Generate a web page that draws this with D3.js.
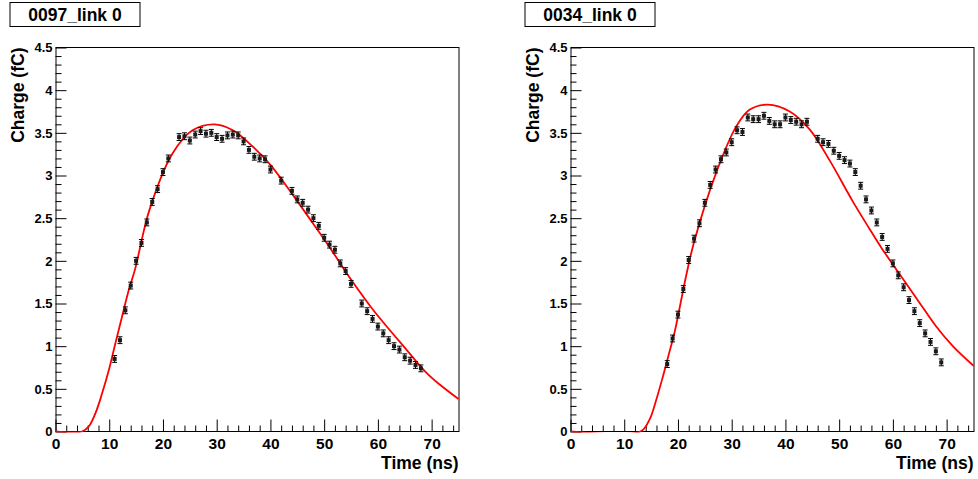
<!DOCTYPE html>
<html>
<head>
<meta charset="utf-8">
<script src="https://cdn.jsdelivr.net/npm/d3@7"></script>
<style>
body { margin: 0; background: #fff; }
svg { display: block; font-family: "Liberation Sans", Arial, Helvetica, sans-serif; font-weight: bold; }
</style>
</head>
<body>
<svg id="chart" width="978" height="479"></svg>
<script>
// left pad: 0097_link 0
var leftTitle = '0097_link 0';
var leftTime = [11, 12, 13, 14, 15, 16, 17, 18, 19, 20, 21, 23, 24, 25, 26, 27, 28, 29, 30, 31,
  32, 33, 34, 35, 36, 37, 38, 39, 40, 42, 44, 45, 46, 47, 48, 49, 50, 51, 52, 53,
  54, 55, 57, 58, 59, 60, 61, 62, 63, 64, 65, 66, 67, 68];
var leftCharge = [0.85, 1.07, 1.42, 1.71, 2.00, 2.21, 2.45, 2.69, 2.84, 3.04, 3.20, 3.45, 3.46, 3.41, 3.48, 3.52, 3.49, 3.50, 3.45, 3.43,
  3.47, 3.48, 3.47, 3.40, 3.30, 3.22, 3.20, 3.19, 3.07, 2.94, 2.82, 2.72, 2.68, 2.60, 2.50, 2.41, 2.27, 2.19, 2.13, 1.97,
  1.88, 1.73, 1.50, 1.41, 1.32, 1.23, 1.15, 1.07, 1.00, 0.96, 0.87, 0.83, 0.78, 0.74];
// fit curve
var leftFitTime = [0, 4.96, 6.2, 7.44, 8.69, 9.93, 11.17, 12.4, 13.65, 14.8, 17.5, 21.8, 25.5, 29.6, 33, 36.7, 40, 44.2, 47.9, 51, 55, 59.05, 65.3, 69, 71.5, 75];
var leftFitCharge = [0, 0, 0.06, 0.215, 0.45, 0.72, 1.04, 1.35, 1.66, 1.90, 2.60, 3.26, 3.53, 3.60, 3.53, 3.34, 3.125, 2.77, 2.44, 2.16, 1.78, 1.43, 0.96, 0.69, 0.55, 0.38];

// right pad: 0034_link 0
var rightTitle = '0034_link 0';
var rightTime = [18, 19, 20, 21, 22, 23, 24, 25, 26, 27, 28, 29, 30, 31, 32, 33, 34, 35, 36, 37,
  38, 39, 40, 41, 42, 43, 44, 46, 47, 48, 49, 50, 51, 52, 53, 54, 55, 56, 57, 58,
  59, 60, 61, 62, 63, 64, 65, 66, 67, 68, 69];
var rightCharge = [0.79, 1.09, 1.37, 1.67, 2.01, 2.26, 2.44, 2.68, 2.89, 3.07, 3.19, 3.27, 3.39, 3.53, 3.51, 3.68, 3.66, 3.66, 3.70, 3.64,
  3.60, 3.60, 3.68, 3.65, 3.63, 3.60, 3.63, 3.43, 3.39, 3.37, 3.29, 3.23, 3.18, 3.14, 3.04, 2.88, 2.72, 2.59, 2.45, 2.28,
  2.14, 1.97, 1.83, 1.69, 1.54, 1.41, 1.27, 1.15, 1.05, 0.94, 0.81];
var rightFitTime = [0, 13.0, 14.7, 15.95, 17.2, 18.4, 19.4, 21.5, 23, 27.1, 30.8, 33.3, 36.7, 40.8, 44.5, 48.2, 52.5, 55.6, 58, 61.85, 64.95, 68.06, 71.15, 75];
var rightFitCharge = [0, 0, 0.14, 0.37, 0.645, 0.93, 1.17, 1.82, 2.22, 3.03, 3.57, 3.77, 3.83, 3.75, 3.54, 3.18, 2.70, 2.38, 2.14, 1.79, 1.51, 1.23, 1.00, 0.77];

var chargeError = 0.04;

var xTicks = [0, 10, 20, 30, 40, 50, 60, 70];
var yTicks = [0, 0.5, 1, 1.5, 2, 2.5, 3, 3.5, 4, 4.5];
var yTickLabels = ['0', '0.5', '1', '1.5', '2', '2.5', '3', '3.5', '4', '4.5'];
var xTitle = 'Time (ns)';
var yTitle = 'Charge (fC)';

var svg = d3.select('#chart');

function drawPanel(left, id, title, times, charges, fitTimes, fitCharges) {
  var width = 403;
  var top = 47.5, bottom = 431.5;
  var x = d3.scaleLinear().domain([0, 75]).range([left, left + width]);
  var y = d3.scaleLinear().domain([0, 4.5]).range([bottom, top]);
  var g = svg.append('g');

  // title box
  g.append('rect')
    .attr('x', left - 45.5).attr('y', 2.5)
    .attr('width', 130).attr('height', 24)
    .attr('fill', 'white').attr('stroke', 'black');
  g.append('text')
    .attr('x', left - 45.5 + 65).attr('y', 20.5)
    .attr('text-anchor', 'middle')
    .style('font-size', '17.5px')
    .text(title);

  // minor ticks
  var xMinor = d3.range(0, 75.01, 2).filter(function(d) { return d % 10 != 0; });
  var yMinor = d3.range(0, 45).map(function(d) { return d / 10; }).filter(function(d, i) { return i % 5 != 0; });
  g.append('g')
    .attr('transform', 'translate(0,' + bottom + ')')
    .call(d3.axisBottom(x).tickValues(xMinor).tickSizeInner(-6).tickSizeOuter(0).tickFormat(''))
    .call(function(a) { a.select('.domain').remove(); });
  g.append('g')
    .attr('transform', 'translate(' + left + ',0)')
    .call(d3.axisLeft(y).tickValues(yMinor).tickSizeInner(-6).tickSizeOuter(0).tickFormat(''))
    .call(function(a) { a.select('.domain').remove(); });

  // major ticks + labels
  var xAxis = g.append('g')
    .attr('transform', 'translate(0,' + bottom + ')')
    .call(d3.axisBottom(x).tickValues(xTicks).tickSizeInner(-12).tickSizeOuter(0).tickPadding(6));
  xAxis.select('.domain').remove();
  xAxis.selectAll('text').attr('fill', 'black').style('font-size', '15.5px').style('font-family', null);

  var yAxis = g.append('g')
    .attr('transform', 'translate(' + left + ',0)')
    .call(d3.axisLeft(y).tickValues(yTicks).tickSizeInner(-11).tickSizeOuter(0).tickPadding(3)
      .tickFormat(function(d, i) { return yTickLabels[i]; }));
  yAxis.select('.domain').remove();
  yAxis.selectAll('text').attr('fill', 'black').style('font-size', '13px').style('font-family', null);

  g.selectAll('.tick line').attr('stroke', 'black');
  g.selectAll('.tick text').style('font-weight', 'bold');

  // frame
  g.append('rect')
    .attr('x', left + 0.5).attr('y', top)
    .attr('width', width).attr('height', bottom - top)
    .attr('fill', 'none').attr('stroke', 'black');

  // fit
  g.append('clipPath').attr('id', id)
    .append('rect')
    .attr('x', left).attr('y', top)
    .attr('width', width + 1).attr('height', bottom - top + 1);
  var line = d3.line()
    .x(function(d, i) { return x(fitTimes[i]); })
    .y(function(d, i) { return y(fitCharges[i]); })
    .curve(d3.curveCatmullRom.alpha(0.5));
  g.append('path')
    .attr('clip-path', 'url(#' + id + ')')
    .attr('d', line(fitTimes))
    .attr('fill', 'none')
    .attr('stroke', '#ff0000')
    .attr('stroke-width', 1.8);

  // points with error bars
  var pts = g.append('g').selectAll('g')
    .data(times)
    .enter().append('g');
  pts.append('line')
    .attr('x1', function(d) { return x(d); }).attr('x2', function(d) { return x(d); })
    .attr('y1', function(d, i) { return y(charges[i] - chargeError); })
    .attr('y2', function(d, i) { return y(charges[i] + chargeError); })
    .attr('stroke', 'black');
  [-1, 1].forEach(function(s) {
    pts.append('line')
      .attr('x1', function(d) { return x(d) - 2.5; }).attr('x2', function(d) { return x(d) + 2.5; })
      .attr('y1', function(d, i) { return y(charges[i] + s * chargeError); })
      .attr('y2', function(d, i) { return y(charges[i] + s * chargeError); })
      .attr('stroke', 'black');
  });
  pts.append('rect')
    .attr('x', function(d) { return x(d) - 2; })
    .attr('y', function(d, i) { return y(charges[i]) - 2; })
    .attr('width', 4).attr('height', 4)
    .attr('fill', '#1a1a1a');

  // axis titles
  g.append('text')
    .attr('x', left + width).attr('y', 469)
    .attr('text-anchor', 'end')
    .style('font-size', '17.5px')
    .text(xTitle);
  g.append('text')
    .attr('transform', 'translate(' + (left - 32) + ',' + top + ') rotate(-90)')
    .attr('text-anchor', 'end')
    .style('font-size', '17.5px')
    .text(yTitle);
}

drawPanel(55.5, 'clipLeft', leftTitle, leftTime, leftCharge, leftFitTime, leftFitCharge);
drawPanel(570.5, 'clipRight', rightTitle, rightTime, rightCharge, rightFitTime, rightFitCharge);
</script>
</body>
</html>
